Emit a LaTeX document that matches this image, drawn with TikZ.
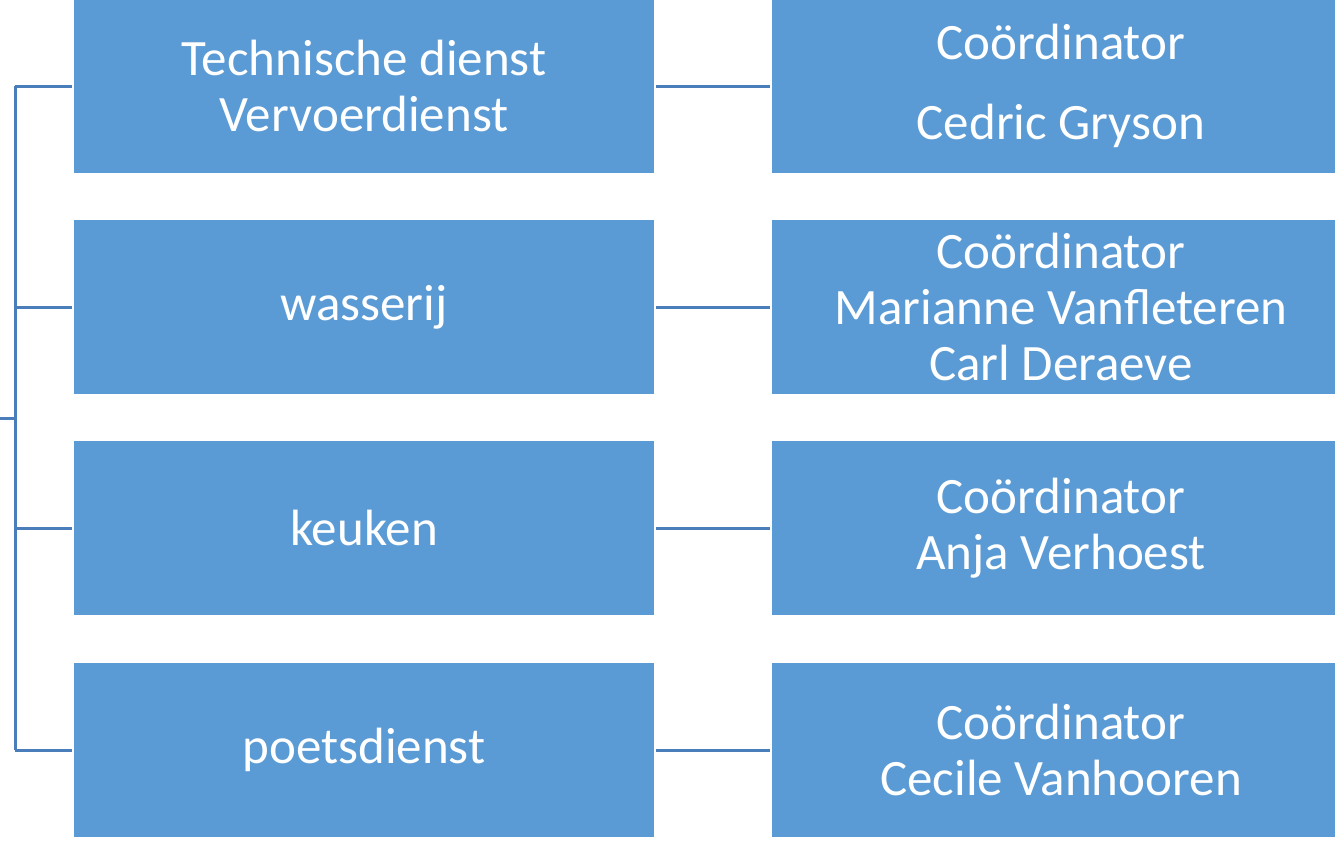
\documentclass[tikz,border=0pt]{standalone}
\usepackage{fontspec}
\setmainfont{Carlito}
\definecolor{boxblue}{HTML}{5B9BD5}
\definecolor{lineblue}{HTML}{4A7EBB}
\begin{document}
\begin{tikzpicture}[x=1pt,y=-1pt,
  box/.style={rectangle, fill=boxblue, draw=none, text=white, align=center, inner sep=0pt,
    font=\fontsize{51}{56}\selectfont},
  lbox/.style={box, minimum width=580pt, minimum height=174pt},
  rbox/.style={box, minimum width=578pt, minimum height=174pt},
  conn/.style={draw=lineblue, line width=3pt}]
\useasboundingbox (0,0) rectangle (1335,843);
\clip (0,0) rectangle (1335,843);
% left boxes
\node[lbox] (l1) at (364,86) {Technische dienst\\Vervoerdienst};
\node[lbox] (l2) at (364,307) {wasserij};
\node[lbox] (l3) at (364,528) {keuken};
\node[lbox] (l4) at (364,750) {poetsdienst};
% right boxes
\node[rbox] (r1) at (1061,86) {Coördinator\\[24pt]Cedric Gryson};
\node[rbox] (r2) at (1061,307) {Coördinator\\Marianne Vanfleteren\\Carl Deraeve};
\node[rbox] (r3) at (1061,528) {Coördinator\\Anja Verhoest};
\node[rbox] (r4) at (1061,750) {Coördinator\\Cecile Vanhooren};
% bracket
\coordinate (t) at (15,86);
\coordinate (b) at (15,750);
\coordinate (m) at (15,418);
\coordinate (e) at (0,418);
\draw[conn] (t) -- (b);
\draw[conn] (e) -- (m);
\draw[conn, shorten >=2pt] (t) -- (l1.west);
\draw[conn, shorten >=2pt] (15,307) -- (l2.west);
\draw[conn, shorten >=2pt] (15,528) -- (l3.west);
\draw[conn, shorten >=2pt] (b) -- (l4.west);
% connectors
\draw[conn, shorten <=2pt, shorten >=2pt] (l1.east) -- (r1.west);
\draw[conn, shorten <=2pt, shorten >=2pt] (l2.east) -- (r2.west);
\draw[conn, shorten <=2pt, shorten >=2pt] (l3.east) -- (r3.west);
\draw[conn, shorten <=2pt, shorten >=2pt] (l4.east) -- (r4.west);
\end{tikzpicture}
\end{document}
